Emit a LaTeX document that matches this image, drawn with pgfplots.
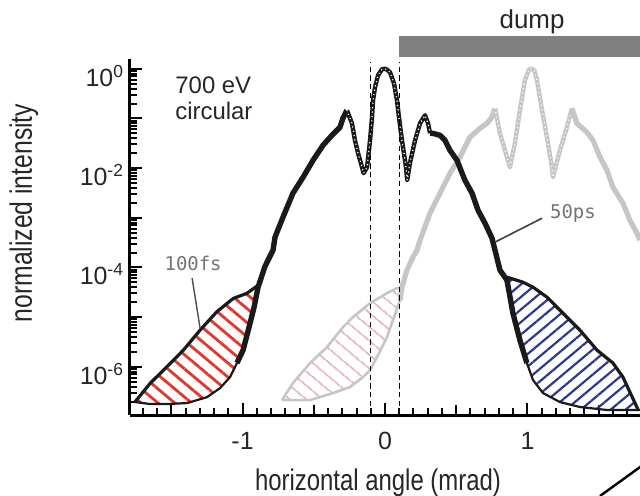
\documentclass[border=0pt]{standalone}
\usepackage{fontspec}
\setmainfont{Liberation Sans}
\newfontfamily\labelfont[FakeStretch=0.8]{Liberation Sans}
\newfontfamily\monofont{DejaVu Sans Mono}
\usepackage{pgfplots}
\pgfplotsset{compat=1.18}
\usetikzlibrary{patterns.meta}
\definecolor{curveblack}{HTML}{1A1A1A}
\definecolor{curvegray}{HTML}{C6C6C6}
\definecolor{hatchred}{HTML}{E2372C}
\definecolor{hatchblue}{HTML}{2B3A8E}
\definecolor{hatchpink}{HTML}{E6B4BE}
\definecolor{dumpgray}{HTML}{808080}
\begin{document}
\begin{tikzpicture}
\useasboundingbox (-65bp,-40.5bp) rectangle (255bp,207.5bp);
\begin{axis}[
  at={(0,0)}, anchor=south west,
  scale only axis, width=255bp, height=178.2bp,
  xmin=-1.79, xmax=1.79,
  ymode=log, ymin=1.07e-7, ymax=1.603,
  axis lines=left, axis line style={-, line width=1.5bp},
  clip=false,
  tick align=inside,
  tick style={line width=1bp, black},
  major tick length=6bp, minor tick length=3.5bp,
  xtick={-1,0,1}, xticklabels={-1,0,1},
  minor xtick={-1.7,-1.6,-1.4,-1.3,-1.2,-1.1,-0.9,-0.8,-0.7,-0.6,-0.4,-0.3,-0.2,-0.1,0.1,0.2,0.3,0.4,0.6,0.7,0.8,0.9,1.1,1.2,1.3,1.4,1.6,1.7},
  extra x ticks={-1.5,-0.5,0.5,1.5}, extra x tick labels={},
  extra x tick style={major tick length=5bp},
  ytick={1e-6,1e-5,1e-4,1e-3,1e-2,1e-1,1},
  yticklabels={{10\textsuperscript{-6}},{},{10\textsuperscript{-4}},{},{10\textsuperscript{-2}},{},{10\textsuperscript{0}}},
  minor ytick={2e-7,3e-7,4e-7,5e-7,6e-7,7e-7,8e-7,9e-7,
    2e-6,3e-6,4e-6,5e-6,6e-6,7e-6,8e-6,9e-6,
    2e-5,3e-5,4e-5,5e-5,6e-5,7e-5,8e-5,9e-5,
    2e-4,3e-4,4e-4,5e-4,6e-4,7e-4,8e-4,9e-4,
    2e-3,3e-3,4e-3,5e-3,6e-3,7e-3,8e-3,9e-3,
    2e-2,3e-2,4e-2,5e-2,6e-2,7e-2,8e-2,9e-2,
    2e-1,3e-1,4e-1,5e-1,6e-1,7e-1,8e-1,9e-1},
  tick label style={font=\fontsize{12.5}{14}\selectfont, text=black!85},
  xticklabel style={yshift=-5bp},
  yticklabel style={xshift=0.5bp, yshift=-3.5bp},
]
% ---------- gray (shifted) curve ----------
\addplot[draw=none, pattern={Lines[angle=-40,distance=5.2bp,line width=0.8bp]}, pattern color=hatchpink]
 coordinates {(-0.723,2.14e-7) (-0.646,4.70e-7) (-0.526,1.19e-6) (-0.407,2.49e-6) (-0.295,6.29e-6) (-0.225,1.0e-5) (-0.105,1.91e-5) (0.014,3.04e-5) (0.084,3.84e-5) (0.119,4.01e-5)
  (0.105,2.20e-5) (0.056,8.71e-6) (0.014,3.96e-6) (-0.056,1.57e-6) (-0.105,8.59e-7) (-0.154,6.21e-7) (-0.246,3.91e-7) (-0.365,2.96e-7) (-0.526,2.14e-7)} -- cycle;
\addplot[curvegray, line width=1.3bp, line join=round]
 coordinates {(-0.723,2.14e-7) (-0.646,4.70e-7) (-0.526,1.19e-6) (-0.407,2.49e-6) (-0.295,6.29e-6) (-0.225,1.0e-5) (-0.105,1.91e-5) (0.014,3.04e-5) (0.084,3.84e-5) (0.119,4.01e-5)};
\addplot[curvegray, line width=1.3bp, line join=round]
 coordinates {(-0.723,2.14e-7) (-0.526,2.14e-7) (-0.365,2.96e-7) (-0.246,3.91e-7) (-0.154,6.21e-7) (-0.105,8.59e-7) (-0.056,1.57e-6) (0.014,3.96e-6) (0.056,8.71e-6) (0.105,2.20e-5) (0.119,4.01e-5)};
\addplot[curvegray, line width=2.6bp, line join=round]
 coordinates {(0.105,2.20e-5) (0.119,4.01e-5) (0.154,8.83e-5) (0.196,1.61e-4) (0.225,2.23e-4) (0.246,3.54e-4) (0.316,1.24e-3) (0.386,3.13e-3) (0.456,7.89e-3) (0.526,1.66e-2) (0.596,4.19e-2) (0.667,6.35e-2) (0.716,8.0e-2) (0.751,0.106) (0.772,0.160)};
\addplot[curvegray, line width=2.2bp, line join=round]
 coordinates {(0.772,0.160) (0.807,5.04e-2) (0.842,2.29e-2) (0.877,1.04e-2) (0.912,3.17e-2) (0.947,0.146) (0.982,0.587) (1.012,0.98) (1.032,1.0) (1.050,0.9) (1.067,0.587) (1.102,0.146) (1.137,4.19e-2) (1.172,1.04e-2) (1.179,6.56e-3) (1.228,2.29e-2) (1.277,6.65e-2) (1.312,0.160)};
\addplot[white, line width=0.8bp, line cap=round, dash pattern=on 0bp off 2.2bp]
 coordinates {(0.772,0.160) (0.807,5.04e-2) (0.842,2.29e-2) (0.877,1.04e-2) (0.912,3.17e-2) (0.947,0.146) (0.982,0.587) (1.012,0.98) (1.032,1.0) (1.050,0.9) (1.067,0.587) (1.102,0.146) (1.137,4.19e-2) (1.172,1.04e-2) (1.179,6.56e-3) (1.228,2.29e-2) (1.277,6.65e-2) (1.312,0.160)};
\addplot[curvegray, line width=2.6bp, line join=round]
 coordinates {(1.312,0.160) (1.347,8.0e-2) (1.418,5.27e-2) (1.460,3.64e-2) (1.509,1.66e-2) (1.558,9.08e-3) (1.600,4.13e-3) (1.670,1.97e-3) (1.719,8.95e-4) (1.768,4.90e-4) (1.789,3.54e-4)};
% ---------- hatched regions ----------
\addplot[draw=none, pattern={Lines[angle=-40,distance=5.4bp,line width=1.4bp]}, pattern color=hatchred]
 coordinates {(-1.754,1.98e-7) (-1.649,4.63e-7) (-1.532,1.0e-6) (-1.415,2.17e-6) (-1.298,5.47e-6) (-1.181,1.28e-5) (-1.065,2.38e-5) (-0.971,3.00e-5) (-0.889,4.40e-5)
  (-0.891,4.01e-5) (-0.919,1.59e-5) (-0.947,7.57e-6) (-0.996,2.17e-6) (-1.039,1.19e-6) (-1.088,6.21e-7) (-1.158,3.72e-7) (-1.249,2.45e-7) (-1.389,1.86e-7) (-1.530,1.78e-7) (-1.649,1.78e-7)} -- cycle;
\addplot[draw=none, pattern={Lines[angle=40,distance=4.8bp,line width=1.1bp]}, pattern color=hatchblue]
 coordinates {(0.856,6.38e-5) (0.968,5.06e-5) (1.039,4.01e-5) (1.137,2.52e-5) (1.249,1.20e-5) (1.368,5.47e-6) (1.488,2.17e-6) (1.600,1.19e-6) (1.670,6.21e-7) (1.775,1.4e-7)
  (1.558,1.35e-7) (1.368,1.55e-7) (1.228,1.95e-7) (1.109,2.96e-7) (1.039,5.40e-7) (0.996,1.19e-6) (0.947,3.44e-6) (0.898,1.20e-5) (0.856,5.55e-5)} -- cycle;
% 100 fs curves
\addplot[curveblack, line width=1.6bp, line join=round]
 coordinates {(-1.754,1.98e-7) (-1.649,4.63e-7) (-1.532,1.0e-6) (-1.415,2.17e-6) (-1.298,5.47e-6) (-1.181,1.28e-5) (-1.065,2.38e-5) (-0.971,3.00e-5) (-0.889,4.40e-5)};
\addplot[curveblack, line width=1.6bp, line join=round]
 coordinates {(0.856,6.38e-5) (0.968,5.06e-5) (1.039,4.01e-5) (1.137,2.52e-5) (1.249,1.20e-5) (1.368,5.47e-6) (1.488,2.17e-6) (1.600,1.19e-6) (1.670,6.21e-7) (1.775,1.4e-7)};
% ---------- black 50 ps curve ----------
\addplot[curveblack, line width=1.1bp, line join=round]
 coordinates {(-1.754,1.95e-7) (-1.649,1.78e-7) (-1.530,1.78e-7) (-1.389,1.86e-7) (-1.249,2.45e-7) (-1.158,3.72e-7) (-1.088,6.21e-7) (-1.039,1.19e-6)};
\addplot[curveblack, line width=2.7bp, line join=round]
 coordinates {(-1.039,1.19e-6) (-0.996,2.17e-6) (-0.947,7.57e-6) (-0.919,1.59e-5) (-0.891,4.01e-5) (-0.842,1.06e-4) (-0.786,2.23e-4) (-0.772,4.07e-4) (-0.716,1.03e-3) (-0.646,3.13e-3) (-0.575,6.56e-3) (-0.505,1.44e-2) (-0.435,2.89e-2) (-0.372,4.59e-2) (-0.337,5.79e-2) (-0.316,6.65e-2) (-0.295,0.101) (-0.267,0.146)};
\addplot[curveblack, line width=2.2bp, line join=round]
 coordinates {(-0.267,0.146) (-0.232,8.0e-2) (-0.211,3.64e-2) (-0.189,1.99e-2) (-0.161,1.04e-2) (-0.150,7.89e-3) (-0.126,1.04e-2) (-0.105,3.64e-2) (-0.091,0.106) (-0.084,0.232) (-0.070,0.425) (-0.049,0.740) (-0.021,0.98) (0.0,1.0) (0.014,0.96) (0.035,0.851) (0.063,0.511) (0.084,0.232) (0.098,0.106) (0.119,3.64e-2) (0.133,1.99e-2) (0.147,1.04e-2) (0.156,5.71e-3) (0.175,1.26e-2) (0.211,3.64e-2) (0.246,8.0e-2) (0.281,0.116) (0.302,8.0e-2) (0.316,5.04e-2)};
\addplot[white, line width=0.8bp, line cap=round, dash pattern=on 0bp off 2.2bp]
 coordinates {(-0.267,0.146) (-0.232,8.0e-2) (-0.211,3.64e-2) (-0.189,1.99e-2) (-0.161,1.04e-2) (-0.150,7.89e-3) (-0.126,1.04e-2) (-0.105,3.64e-2) (-0.091,0.106) (-0.084,0.232) (-0.070,0.425) (-0.049,0.740) (-0.021,0.98) (0.0,1.0) (0.014,0.96) (0.035,0.851) (0.063,0.511) (0.084,0.232) (0.098,0.106) (0.119,3.64e-2) (0.133,1.99e-2) (0.147,1.04e-2) (0.156,5.71e-3) (0.175,1.26e-2) (0.211,3.64e-2) (0.246,8.0e-2) (0.281,0.116) (0.302,8.0e-2) (0.316,5.04e-2)};
\addplot[curveblack, line width=2.7bp, line join=round]
 coordinates {(0.316,5.04e-2) (0.337,5.0e-2) (0.386,4.59e-2) (0.421,3.64e-2) (0.456,2.29e-2) (0.505,1.44e-2) (0.561,5.71e-3) (0.611,3.13e-3) (0.653,1.42e-3) (0.702,7.78e-4) (0.751,3.89e-4) (0.807,8.83e-5) (0.856,5.55e-5) (0.898,1.20e-5) (0.947,3.44e-6) (0.996,1.19e-6)};
\addplot[curveblack, line width=1.1bp, line join=round]
 coordinates {(0.996,1.19e-6) (1.039,5.40e-7) (1.109,2.96e-7) (1.228,1.95e-7) (1.368,1.55e-7) (1.558,1.35e-7) (1.789,1.35e-7)};
% ---------- dashed lines ----------
\addplot[black, line width=0.7bp, dash pattern=on 2.6bp off 1.8bp] coordinates {(-0.1,1.07e-7) (-0.1,1.35)};
\addplot[black, line width=0.7bp, dash pattern=on 2.6bp off 1.8bp] coordinates {(0.1,1.07e-7) (0.1,1.35)};
% ---------- annotations ----------
\fill[dumpgray] (axis cs:0.098,1.70) rectangle (axis cs:1.85,4.51);
\node[anchor=base, font=\fontsize{13}{15}\selectfont, text=black!85] at (axis cs:1.032,6.53) {dump};
\node[anchor=north west, align=left, inner sep=0pt, font=\fontsize{12}{13}\selectfont, text=black!85] at (axis cs:-1.474,0.70) {700 eV\\circular};
\draw[black!70, line width=0.7bp] (axis cs:-1.354,6.09e-5) -- (axis cs:-1.298,6.0e-6);
\node[font=\monofont\fontsize{9.5}{11}\selectfont, text=black!55] at (axis cs:-1.347,1.22e-4) {100fs};
\draw[black!75, line width=0.8bp] (axis cs:1.102,9.8e-4) -- (axis cs:0.772,3.23e-4);
\node[font=\monofont\fontsize{9.5}{11}\selectfont, text=black!55] at (axis cs:1.319,1.24e-3) {50ps};
\end{axis}
\node[anchor=base, font=\labelfont\fontsize{15}{17}\selectfont, text=black!85] at (124bp,-37.5bp) {horizontal angle (mrad)};
\node[rotate=90, anchor=base, font=\labelfont\fontsize{15.5}{17}\selectfont, text=black!85] at (-49bp,101bp) {normalized intensity};
\draw[black, line width=1.2bp] (235bp,-40.5bp) -- (262bp,-21bp);
\end{tikzpicture}
\end{document}
